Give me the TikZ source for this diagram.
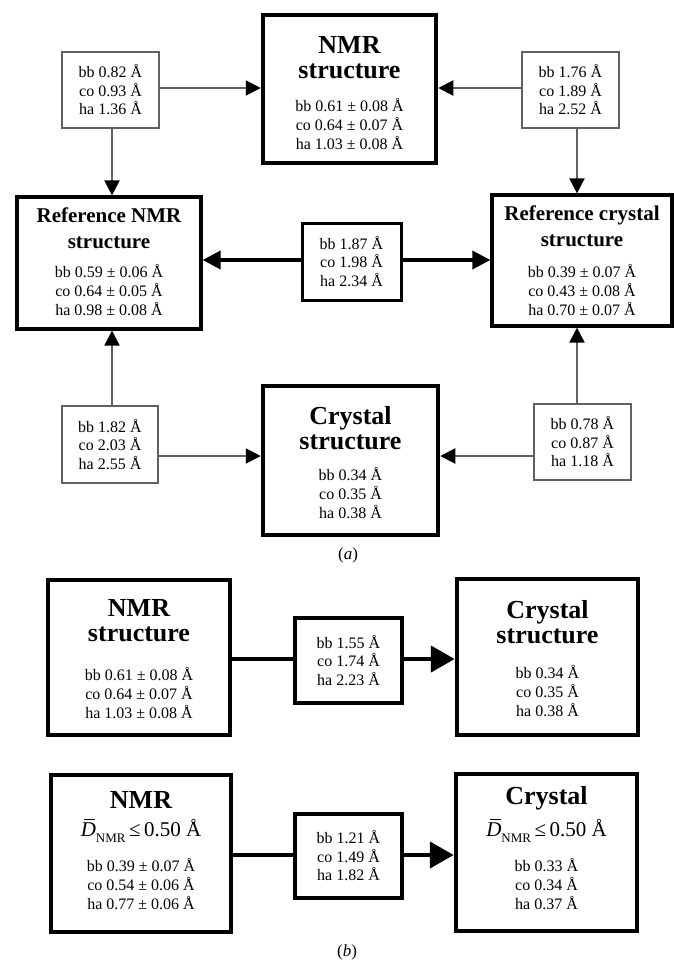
\documentclass[tikz,border=0pt]{standalone}
\usepackage{fontspec}
\setmainfont{Liberation Serif}
\usetikzlibrary{arrows.meta}
\newcommand{\Dbarnmr}{\makebox[0pt][l]{\kern0.17em\rule[0.76em]{0.52em}{0.05em}}\textit{D}\raisebox{-0.3em}{\fontsize{13}{13}\selectfont NMR}\,≤\,0.50~Å}
\begin{document}
\begin{tikzpicture}[x=1pt,y=-1pt,
  thickbox/.style={draw=black, line width=4.5pt, inner sep=0pt},
  refbox/.style={draw=black, line width=3.2pt, inner sep=0pt},
  midbox/.style={draw=black, line width=3pt, inner sep=0pt},
  smallbox/.style={draw=black!62, line width=2pt, inner sep=0pt},
  ttl/.style={font=\fontsize{26}{25}\selectfont\bfseries, align=center, inner sep=0pt},
  rttl/.style={font=\fontsize{21}{26}\selectfont\bfseries, align=center, inner sep=0pt},
  dat/.style={font=\fontsize{16}{19}\selectfont, align=center, inner sep=0pt},
  dats/.style={font=\fontsize{16}{18.5}\selectfont, align=center},
  dbl/.style={font=\fontsize{21}{24}\selectfont, inner sep=0pt, anchor=base},
  thinarr/.style={draw=black!62, line width=2pt, -{Triangle[length=15pt,width=15pt,color=black]}},
  midarr/.style={draw=black, line width=3.5pt, -{Triangle[length=18pt,width=18pt]}},
  bigline/.style={draw=black, line width=4.5pt},
  bigarr/.style={draw=black, line width=4.5pt, -{Triangle[length=24pt,width=26pt]}},
  capstyle/.style={font=\fontsize{17}{20}\selectfont, inner sep=0pt}
]
\useasboundingbox[fill=white] (0,0) rectangle (674,962);

% ---------- panel (a) ----------
\node[thickbox, minimum width=173pt, minimum height=148pt] (nmrA) at (349.5,89) {};
\node[ttl] (nmrAt) at (349.5,58) {NMR\\structure};
\node[dat] (nmrAd) at (349.5,124) {bb 0.61 ± 0.08 Å\\co 0.64 ± 0.07 Å\\ha 1.03 ± 0.08 Å};

\node[smallbox, dats, inner sep=0pt, minimum width=97pt, minimum height=76pt] (tl) at (110.5,90) {bb 0.82 Å\\co 0.93 Å\\ha 1.36 Å};
\node[smallbox, dats, inner sep=0pt, minimum width=97pt, minimum height=76pt] (tr) at (570.5,90) {bb 1.76 Å\\co 1.89 Å\\ha 2.52 Å};

\node[refbox, minimum width=184pt, minimum height=132pt] (refnA) at (109,263) {};
\node[rttl] (refnAt) at (109,228.5) {Reference NMR\\structure};
\node[dat] (refnAd) at (109,290) {bb 0.59 ± 0.06 Å\\co 0.64 ± 0.05 Å\\ha 0.98 ± 0.08 Å};

\node[refbox, minimum width=180pt, minimum height=131pt] (refcA) at (582,260.5) {};
\node[rttl] (refcAt) at (582,226) {Reference crystal\\structure};
\node[dat] (refcAd) at (582,290) {bb 0.39 ± 0.07 Å\\co 0.43 ± 0.08 Å\\ha 0.70 ± 0.07 Å};

\node[midbox, dats, inner sep=0pt, minimum width=99pt, minimum height=77pt] (midA) at (351.5,261.5) {bb 1.87 Å\\co 1.98 Å\\ha 2.34 Å};

\node[smallbox, dats, inner sep=0pt, minimum width=96pt, minimum height=77pt] (bl) at (110,444.5) {bb 1.82 Å\\co 2.03 Å\\ha 2.55 Å};
\node[smallbox, dats, inner sep=0pt, minimum width=97pt, minimum height=76pt] (br) at (582.5,442) {bb 0.78 Å\\co 0.87 Å\\ha 1.18 Å};

\node[thickbox, minimum width=175pt, minimum height=149pt] (cryA) at (350.5,460.5) {};
\node[ttl] (cryAt) at (350.5,428) {Crystal\\structure};
\node[dat] (cryAd) at (350.5,493) {bb 0.34 Å\\co 0.35 Å\\ha 0.38 Å};

\node[capstyle] (capA) at (348,555) {(\textit{a})};

\coordinate (lx) at (112,0);
\coordinate (rx) at (577,0);
\coordinate (ty) at (0,88);
\coordinate (my) at (0,260);
\coordinate (by) at (0,456);

\draw[thinarr] (tl.east |- ty) -- (nmrA.west |- ty);
\draw[thinarr] (tr.west |- ty) -- (nmrA.east |- ty);
\draw[thinarr] (tl.south -| lx) -- (refnA.north -| lx);
\draw[thinarr] (tr.south -| rx) -- (refcA.north -| rx);
\draw[midarr] (midA.west |- my) -- (refnA.east |- my);
\draw[midarr] (midA.east |- my) -- (refcA.west |- my);
\draw[thinarr] (bl.north -| lx) -- (refnA.south -| lx);
\draw[thinarr] (br.north -| rx) -- (refcA.south -| rx);
\draw[thinarr] (bl.east |- by) -- (cryA.west |- by);
\draw[thinarr] (br.west |- by) -- (cryA.east |- by);

% ---------- panel (b) ----------
\node[thickbox, minimum width=182pt, minimum height=155pt] (nmrB) at (139,657.5) {};
\node[ttl] (nmrBt) at (139,621) {NMR\\structure};
\node[dat] (nmrBd) at (139,693) {bb 0.61 ± 0.08 Å\\co 0.64 ± 0.07 Å\\ha 1.03 ± 0.08 Å};

\node[thickbox, dats, minimum width=107pt, minimum height=85pt] (midB) at (348.5,660.5) {bb 1.55 Å\\co 1.74 Å\\ha 2.23 Å};

\node[thickbox, minimum width=181pt, minimum height=156pt] (cryB) at (547.5,657) {};
\node[ttl] (cryBt) at (547.5,622) {Crystal\\structure};
\node[dat] (cryBd) at (547.5,691) {bb 0.34 Å\\co 0.35 Å\\ha 0.38 Å};

\coordinate (y1) at (0,659);
\draw[bigline] (nmrB.east |- y1) -- (midB.west |- y1);
\draw[bigarr] (midB.east |- y1) -- (cryB.west |- y1);

\node[thickbox, minimum width=180pt, minimum height=157pt] (nmrC) at (141,853.5) {};
\node[ttl, anchor=base] (nmrCt) at (141,808) {NMR};
\node[dbl] (nmrCs) at (141,836) {\Dbarnmr};
\node[dat] (nmrCd) at (141,884) {bb 0.39 ± 0.07 Å\\co 0.54 ± 0.06 Å\\ha 0.77 ± 0.06 Å};

\node[thickbox, dats, minimum width=107pt, minimum height=84pt] (midC) at (348.5,856) {bb 1.21 Å\\co 1.49 Å\\ha 1.82 Å};

\node[thickbox, minimum width=181pt, minimum height=157pt] (cryC) at (546.5,852.5) {};
\node[ttl, anchor=base] (cryCt) at (546.5,804) {Crystal};
\node[dbl] (cryCs) at (546.5,836) {\Dbarnmr};
\node[dat] (cryCd) at (546.5,884) {bb 0.33 Å\\co 0.34 Å\\ha 0.37 Å};

\coordinate (y2) at (0,855);
\draw[bigline] (nmrC.east |- y2) -- (midC.west |- y2);
\draw[bigarr] (midC.east |- y2) -- (cryC.west |- y2);

\node[capstyle] (capB) at (347,952) {(\textit{b})};
\end{tikzpicture}
\end{document}
